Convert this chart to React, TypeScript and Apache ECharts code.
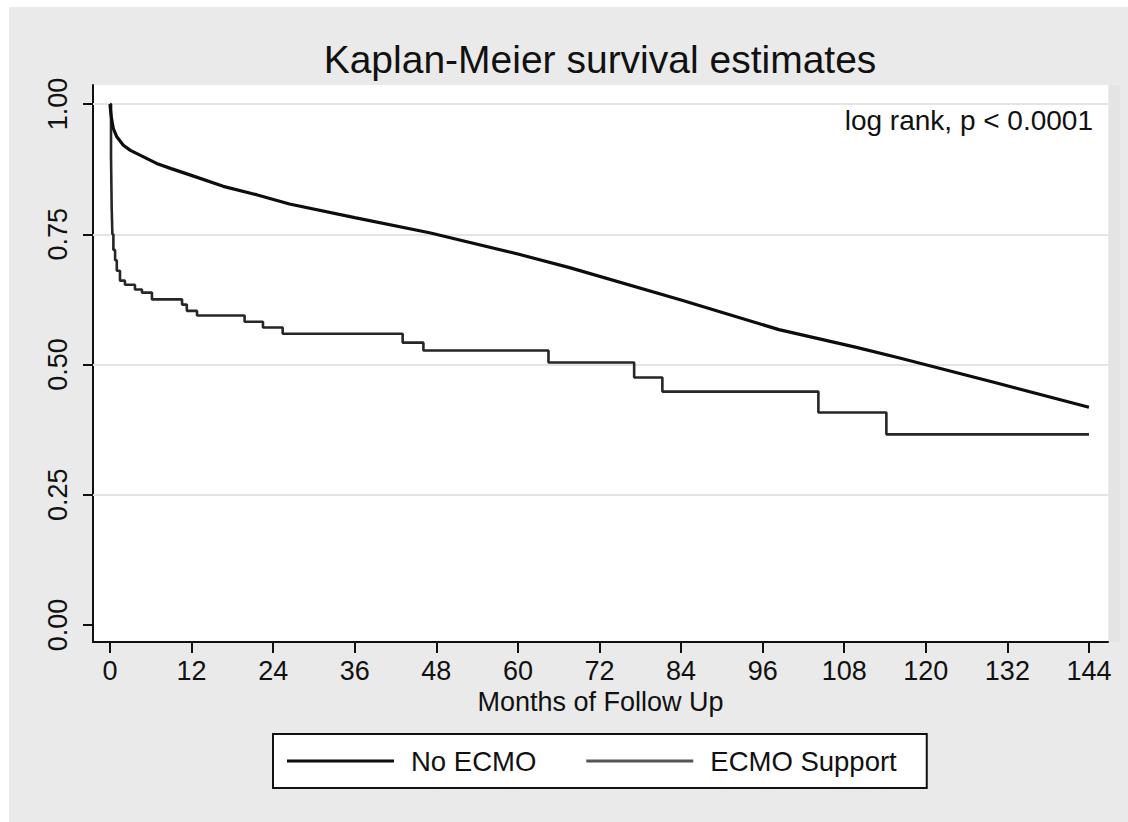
import React, { useEffect, useRef } from "react";
import * as echarts from "echarts";

// ---- data ----
const xTicks = [0, 12, 24, 36, 48, 60, 72, 84, 96, 108, 120, 132, 144];
const yTicks = [0, 0.25, 0.5, 0.75, 1.0];
const gridValues = [0.25, 0.5, 0.75, 1.0];

const noEcmoMonths = [0, 0.1, 0.25, 0.49, 1.0, 1.96, 3.0, 4.41, 6.86, 9.0, 11.75, 16.65, 21.55, 26.4, 36, 47, 60, 67.6, 84, 98.4, 109.8, 116, 130, 144];
const noEcmoSurvival = [1.0, 0.985, 0.97, 0.953, 0.937, 0.921, 0.911, 0.902, 0.886, 0.876, 0.864, 0.842, 0.826, 0.808, 0.782, 0.753, 0.712, 0.686, 0.624, 0.567, 0.533, 0.513, 0.466, 0.418];

const ecmoMonths = [0, 0.15, 0.25, 0.35, 0.5, 0.75, 1.0, 1.47, 2.2, 3.67, 4.7, 6.17, 10.6, 11.3, 12.8, 19.8, 22.5, 25.4, 43.05, 46.1, 64.5, 77.1, 81.25, 104.2, 114.2, 144];
const ecmoSurvival = [1.0, 0.9, 0.8, 0.75, 0.72, 0.7, 0.68, 0.661, 0.653, 0.644, 0.638, 0.625, 0.615, 0.603, 0.594, 0.582, 0.571, 0.559, 0.542, 0.527, 0.504, 0.475, 0.448, 0.408, 0.366, 0.366];

const seriesNames = ["No ECMO", "ECMO Support"];
const titleText = "Kaplan-Meier survival estimates";
const noteText = "log rank, p < 0.0001";
const xName = "Months of Follow Up";

const FONT = "'Liberation Sans', Arial, Helvetica, sans-serif";

export default function App() {
  const ref = useRef<HTMLDivElement>(null);
  useEffect(() => {
    if (!ref.current) return;
    const chart = echarts.init(ref.current, null, { renderer: "svg" });
    const option = {
      animation: false,
      backgroundColor: "transparent",
      textStyle: { fontFamily: FONT },
      grid: {
        left: 93,
        top: 85,
        right: 20,
        bottom: 180,
        show: true,
        backgroundColor: "#ffffff",
        borderWidth: 0,
      },
      graphic: [
        {
          type: "text",
          x: 600,
          y: 59,
          style: {
            text: titleText,
            fontSize: 39,
            fontFamily: FONT,
            fill: "#111",
            textAlign: "center",
            textVerticalAlign: "middle",
          },
        },
        {
          type: "text",
          x: 1093,
          y: 120,
          z: 10,
          style: {
            text: noteText,
            fontSize: 28,
            fontFamily: FONT,
            fill: "#111",
            textAlign: "right",
            textVerticalAlign: "middle",
          },
        },
        {
          type: "rect",
          shape: { x: 1109, y: 85, width: 11, height: 557 },
          style: { fill: "#e4e4e4" },
          z: -1,
        },
      ],
      legend: {
        data: seriesNames,
        left: 273,
        top: 734,
        orient: "horizontal",
        icon: "rect",
        itemWidth: 107,
        itemHeight: 3,
        itemGap: 50,
        padding: [13, 30, 13, 14],
        borderColor: "#111",
        borderWidth: 2,
        backgroundColor: "#ffffff",
        textStyle: { fontSize: 27.5, color: "#111", fontFamily: FONT, padding: [0, 0, 0, 12] },
      },
      xAxis: {
        type: "value",
        min: -2.5,
        max: 146.8,
        name: xName,
        nameLocation: "middle",
        nameGap: 45,
        nameTextStyle: { fontSize: 27, color: "#111", fontFamily: FONT },
        axisLine: { show: true, onZero: false, lineStyle: { color: "#111", width: 2 } },
        axisTick: { show: true, length: 11, customValues: xTicks, lineStyle: { color: "#111", width: 2 } },
        axisLabel: { customValues: xTicks, fontSize: 27, color: "#111", margin: 15, fontFamily: FONT },
        splitLine: { show: false },
      },
      yAxis: {
        type: "value",
        min: -0.0326,
        max: 1.0365,
        axisLine: { show: true, onZero: false, lineStyle: { color: "#111", width: 2 } },
        axisTick: { show: true, length: 10, customValues: yTicks, lineStyle: { color: "#111", width: 2 } },
        axisLabel: {
          customValues: yTicks,
          rotate: 90,
          fontSize: 27,
          color: "#111",
          margin: 22,
          fontFamily: FONT,
          formatter: (v: number) => v.toFixed(2),
        },
        splitLine: { show: false },
      },
      series: [
        {
          name: seriesNames[0],
          type: "line",
          symbol: "none",
          showSymbol: false,
          smooth: false,
          z: 4,
          lineStyle: { color: "#0d0d0d", width: 3.2 },
          itemStyle: { color: "#0d0d0d" },
          data: noEcmoMonths.map((m, i) => [m, noEcmoSurvival[i]]),
          markLine: {
            silent: true,
            symbol: "none",
            label: { show: false },
            z: 1,
            lineStyle: { color: "#e4e4e4", width: 2, type: "solid" },
            data: gridValues.map((v) => ({ yAxis: v })),
          },
        },
        {
          name: seriesNames[1],
          type: "line",
          symbol: "none",
          showSymbol: false,
          step: "end",
          z: 3,
          lineStyle: { color: "#262626", width: 2.6 },
          itemStyle: { color: "#555555" },
          data: ecmoMonths.map((m, i) => [m, ecmoSurvival[i]]),
        },
      ],
    };
    chart.setOption(option as any);
    return () => chart.dispose();
  }, []);

  return (
    <div style={{ position: "absolute", left: 0, top: 0, width: 1128, height: 822, background: "#ffffff" }}>
      <div style={{ position: "absolute", left: 9, top: 7, right: 0, bottom: 0, background: "#eaeaea" }} />
      <div ref={ref} style={{ position: "absolute", left: 0, top: 0, width: 1128, height: 822 }} />
    </div>
  );
}
